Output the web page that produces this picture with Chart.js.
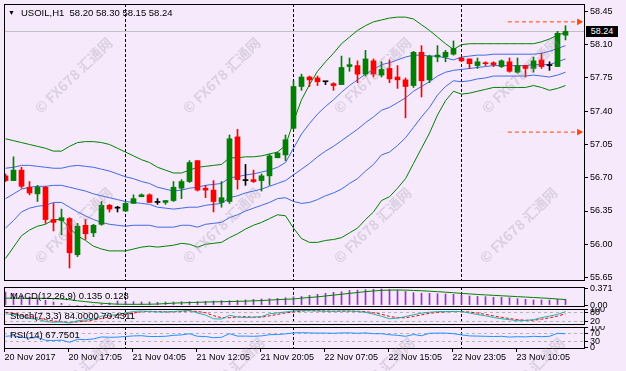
<!DOCTYPE html>
<html>
<head>
<meta charset="utf-8">
<script src="https://cdn.jsdelivr.net/npm/chart.js@4.4.0/dist/chart.umd.min.js"></script>
<style>
  body { margin: 0; background: #f5e9fb; }
  #wrap { position: relative; width: 626px; height: 371px; overflow: hidden; background: #f5e9fb;
          font-family: 'Liberation Sans', Arial, sans-serif; }
  canvas { position: absolute; left: 0; }
  .lbl { position: absolute; font-size: 9.5px; color: #000; white-space: pre; line-height: 11px; }
  .wm { position: absolute; font: bold 14px 'Noto Sans CJK SC', 'Liberation Sans', sans-serif; color: rgba(150, 145, 160, 0.28);
        white-space: nowrap; transform: translate(-50%, -50%) rotate(-44deg); pointer-events: none; }
  #bid { position: absolute; left: 586px; width: 32px; height: 11px; background: #000; color: #fff;
         font-size: 9px; line-height: 11px; text-align: center; }
</style>
</head>
<body>
<div id="wrap">
  <canvas id="main" width="626" height="284" style="top:0"></canvas>
  <canvas id="macd" width="626" height="23" style="top:285px"></canvas>
  <canvas id="stoch" width="626" height="18" style="top:308px"></canvas>
  <canvas id="rsi" width="626" height="45" style="top:326px"></canvas>
  <div class="lbl" style="left:8px;top:7px;font-size:7px">▼</div>
  <div class="lbl" id="title" style="left:21px;top:7px"></div>
  <div class="lbl" id="macdLbl" style="left:10px;top:290px"></div>
  <div class="lbl" id="stochLbl" style="left:10px;top:310px"></div>
  <div class="lbl" id="rsiLbl" style="left:10px;top:329px"></div>
  <div id="bid"></div>
</div>
<script>
// hourly bars, USOIL H1
const opens = [56.72,56.67,56.78,56.60,56.53,56.60,56.26,56.25,56.27,55.89,56.20,56.12,56.21,56.41,56.38,56.35,56.43,56.50,56.52,56.44,
  56.44,56.46,56.59,56.66,56.88,56.59,56.57,56.44,56.45,57.13,56.67,56.68,56.67,56.72,56.91,56.94,57.22,57.66,57.76,57.75,
  57.71,57.69,57.68,57.87,57.88,57.79,57.93,57.78,57.85,57.76,57.73,57.67,58.02,57.73,57.97,57.97,58.00,57.96,57.95,57.88,
  57.91,57.91,57.87,57.92,57.81,57.88,57.85,57.94,57.88,57.87,58.20];
const highs = [56.74,56.92,56.81,56.66,56.62,56.61,56.43,56.37,56.28,56.22,56.26,56.21,56.45,56.42,56.40,56.44,56.52,56.53,56.53,56.48,
  56.46,56.66,56.68,56.88,56.88,56.62,56.67,56.66,57.15,57.21,56.84,56.78,56.74,56.95,56.97,57.15,57.72,57.79,57.77,57.77,
  57.71,57.70,57.98,57.96,57.93,58.04,57.95,57.92,57.94,57.88,57.75,58.03,58.09,57.99,58.09,58.04,58.14,57.97,57.95,57.96,
  57.92,57.92,57.94,57.96,57.96,57.88,57.97,58.01,57.92,58.24,58.30];
const lows = [56.66,56.67,56.59,56.52,56.45,56.22,56.14,56.10,55.75,55.87,56.05,56.08,56.20,56.34,56.34,56.35,56.43,56.50,56.44,56.42,
  56.42,56.45,56.48,56.65,56.56,56.49,56.34,56.39,56.43,56.58,56.62,56.65,56.56,56.62,56.91,56.88,57.21,57.62,57.66,57.67,
  57.68,57.62,57.68,57.82,57.70,57.77,57.76,57.76,57.70,57.64,57.33,57.65,57.55,57.70,57.92,57.92,57.99,57.92,57.85,57.85,
  57.88,57.87,57.86,57.81,57.80,57.76,57.81,57.85,57.83,57.87,58.15];
const closes = [56.67,56.78,56.61,56.54,56.60,56.26,56.23,56.28,55.91,56.19,56.11,56.20,56.41,56.37,56.38,56.43,56.48,56.52,56.44,56.44,
  56.46,56.60,56.66,56.86,56.57,56.57,56.45,56.49,57.11,56.68,56.67,56.66,56.72,56.93,56.96,57.10,57.66,57.76,57.73,57.71,
  57.71,57.67,57.86,57.89,57.79,57.95,57.79,57.84,57.74,57.73,57.66,58.02,57.72,57.98,57.99,58.02,58.06,57.93,57.90,57.92,
  57.90,57.89,57.93,57.82,57.88,57.85,57.93,57.87,57.88,58.22,58.24];

// bollinger bands: outer (green) and inner (blue)
const bbUpper2 = [57.11,57.09,57.07,57.05,57.03,57.01,56.98,56.98,57.03,57.07,57.08,57.08,57.07,57.05,57.01,56.97,56.93,56.89,56.86,56.81,
  56.78,56.75,56.75,56.78,56.81,56.82,56.83,56.84,56.91,56.91,56.92,56.92,56.93,56.95,56.97,57.04,57.29,57.52,57.68,57.82,
  57.92,58.01,58.11,58.18,58.25,58.30,58.34,58.36,58.38,58.39,58.39,58.37,58.31,58.25,58.18,58.11,58.05,58.10,58.11,58.11,
  58.11,58.11,58.11,58.11,58.11,58.11,58.11,58.13,58.16,58.20,58.23];
const bbUpper1 = [56.80,56.81,56.83,56.83,56.82,56.81,56.80,56.80,56.82,56.83,56.82,56.81,56.79,56.77,56.74,56.71,56.69,56.66,56.64,56.60,
  56.58,56.56,56.57,56.59,56.60,56.62,56.63,56.64,56.70,56.71,56.73,56.74,56.76,56.78,56.81,56.86,57.01,57.16,57.27,57.37,
  57.45,57.52,57.60,57.67,57.73,57.79,57.84,57.89,57.91,57.94,57.97,57.99,57.99,57.98,57.98,57.96,57.94,57.97,57.98,57.99,
  57.99,58.00,58.00,58.00,58.00,58.00,58.00,58.01,58.03,58.06,58.09];
const bbMid = [56.48,56.53,56.58,56.60,56.61,56.61,56.62,56.62,56.60,56.58,56.56,56.53,56.51,56.49,56.47,56.45,56.44,56.43,56.42,56.39,
  56.38,56.37,56.38,56.39,56.39,56.41,56.42,56.43,56.49,56.51,56.54,56.56,56.58,56.61,56.64,56.67,56.73,56.79,56.85,56.92,
  56.98,57.03,57.09,57.15,57.21,57.28,57.34,57.41,57.44,57.49,57.54,57.61,57.66,57.71,57.77,57.81,57.83,57.84,57.85,57.86,
  57.87,57.88,57.88,57.88,57.88,57.88,57.89,57.89,57.89,57.92,57.95];
const bbLower1 = [56.17,56.25,56.34,56.38,56.40,56.41,56.44,56.44,56.39,56.34,56.30,56.26,56.23,56.21,56.20,56.19,56.20,56.20,56.20,56.18,
  56.18,56.18,56.20,56.20,56.18,56.21,56.22,56.23,56.28,56.31,56.35,56.38,56.41,56.44,56.48,56.49,56.45,56.43,56.44,56.47,
  56.51,56.54,56.58,56.64,56.69,56.77,56.84,56.94,56.97,57.04,57.12,57.23,57.34,57.44,57.57,57.66,57.72,57.71,57.72,57.74,
  57.75,57.77,57.77,57.77,57.77,57.77,57.78,57.77,57.76,57.78,57.81];
const bbLower2 = [55.85,55.97,56.09,56.15,56.19,56.21,56.26,56.26,56.17,56.09,56.04,55.98,55.95,55.93,55.93,55.93,55.95,55.97,55.98,55.97,
  55.98,55.99,56.01,56.00,55.97,56.00,56.01,56.02,56.07,56.11,56.16,56.20,56.23,56.27,56.31,56.30,56.17,56.06,56.02,56.02,
  56.04,56.05,56.07,56.12,56.17,56.26,56.34,56.46,56.50,56.59,56.69,56.85,57.01,57.17,57.36,57.51,57.61,57.58,57.59,57.61,
  57.63,57.65,57.65,57.65,57.65,57.65,57.67,57.65,57.62,57.64,57.67];

const macdHist = [0.30,0.27,0.23,0.19,0.16,0.11,0.07,0.04,0.00,-0.013,-0.01,0.00,0.03,0.05,0.095,0.087,0.079,0.071,0.071,0.064,
  0.071,0.071,0.079,0.079,0.079,0.087,0.095,0.102,0.102,0.110,0.118,0.133,0.141,0.148,0.156,0.171,0.19,0.20,0.225,0.248,
  0.271,0.294,0.31,0.337,0.345,0.355,0.365,0.371,0.36,0.345,0.315,0.286,0.271,0.271,0.263,0.256,0.248,0.225,0.21,0.20,
  0.194,0.179,0.179,0.171,0.148,0.133,0.118,0.118,0.118,0.133,0.135];
const macdSignal = [0.16,0.16,0.158,0.156,0.156,0.156,0.15,0.14,0.125,0.10,0.08,0.06,0.045,0.03,0.022,0.018,0.018,0.018,0.02,0.025,
  0.035,0.045,0.052,0.058,0.064,0.07,0.074,0.078,0.082,0.087,0.092,0.098,0.105,0.115,0.125,0.135,0.14,0.16,0.175,0.19,
  0.21,0.23,0.25,0.27,0.29,0.31,0.325,0.34,0.345,0.348,0.345,0.338,0.33,0.32,0.31,0.298,0.285,0.27,0.258,0.245,
  0.235,0.225,0.215,0.205,0.195,0.185,0.175,0.165,0.155,0.14,0.128];

const stochMain = [70,65,55,40,35,20,15,18,10,25,30,35,55,60,65,75,85,88,85,82,
  82,85,88,92,75,62,38,36,60,50,45,48,52,70,76,82,88,92,90,88,
  86,86,88,88,85,79,68,54,38,42,52,64,74,80,84,85,85,84,75,65,
  57,46,38,32,25,27,32,45,55,66,84.0000];
const stochSignal = [80,74,63,53,43,32,23,18,14,18,22,30,40,50,60,67,75,83,86,85,
  83,83,85,88,85,77,58,45,45,49,52,48,48,57,66,76,82,87,90,90,
  88,87,87,87,87,84,77,67,53,45,44,53,63,73,79,83,85,85,81,75,
  66,56,47,39,32,28,28,35,44,55,70.4311];
const rsiValues = [55,58,50,46,49,35,34,36,25,40,38,42,52,50,51,54,57,58,54,54,
  55,60,62,68,55,54,48,50,68,56,56,55,57,63,64,67,72,73,72,71,
  71,70,72,72,70,72,68,68,63,60,55,64,58,70,71,71,68,62,57,56,
  55,54,55,51,53,52,55,53,55,70,67.7501];

const timeLabels = ['20 Nov 2017', '20 Nov 17:05', '21 Nov 04:05', '21 Nov 12:05', '21 Nov 20:05',
  '22 Nov 07:05', '22 Nov 15:05', '22 Nov 23:05', '23 Nov 10:05'];
const dayStarts = [15, 36, 57];
const priceTicks = [58.45, 58.10, 57.75, 57.40, 57.05, 56.70, 56.35, 56.00, 55.65];
const targetLevels = [58.34, 57.18];

Chart.defaults.font.family = "'Liberation Sans', Arial, sans-serif";
Chart.defaults.font.size = 9;
Chart.defaults.color = '#000';
Chart.defaults.animation = false;
Chart.defaults.plugins.legend.display = false;
Chart.defaults.plugins.tooltip.enabled = false;

const last = closes.length - 1;
const GREEN = '#008000', RED = '#ff0000', BLUE = '#4169e1';
const candleColor = closes.map((c, i) => c > opens[i] ? GREEN : c < opens[i] ? RED : '#000000');
const pts = arr => arr.map((v, i) => ({ x: i, y: v }));

const frame = {
  id: 'frame',
  afterDraw(chart) {
    const { ctx, chartArea: a } = chart;
    ctx.save();
    ctx.strokeStyle = '#000';
    ctx.lineWidth = 1;
    ctx.strokeRect(a.left + 0.5, a.top + 0.5, a.right - a.left, a.bottom - a.top);
    ctx.restore();
  }
};

const bidLine = {
  id: 'bidLine',
  beforeDatasetsDraw(chart) {
    const { ctx, chartArea: a } = chart;
    const y = Math.round(chart.scales.y.getPixelForValue(closes[last])) + 0.5;
    ctx.save();
    ctx.strokeStyle = '#c0c0c0';
    ctx.beginPath();
    ctx.moveTo(a.left, y);
    ctx.lineTo(a.right, y);
    ctx.stroke();
    ctx.restore();
  }
};

const noPad = s => { s.paddingTop = 0; s.paddingBottom = 0; s.paddingLeft = 0; s.paddingRight = 0; };

// shared x scale: one bar = 8px, bar 0 centred at x=5.5
function xScale(extra) {
  return Object.assign({
    type: 'linear', min: -0.1875, max: 72.3125, offset: false,
    afterBuildTicks: s => { s.ticks = dayStarts.map(v => ({ value: v })); },
    afterFit: s => { s.height = 0; noPad(s); },
    ticks: { display: false },
    grid: { color: '#000', drawTicks: false, offset: false },
    border: { display: false, dash: [3, 2] }
  }, extra);
}

function yScale(min, max, tickVals, fmt, levels) {
  return {
    position: 'right', min, max,
    afterFit: s => { s.width = 42; noPad(s); },
    afterBuildTicks: s => { s.ticks = tickVals.map(v => ({ value: v })); },
    border: { display: false, dash: [3, 3] },
    grid: {
      drawOnChartArea: !!levels, drawTicks: true, tickLength: 4, tickColor: '#000',
      color: c => levels && levels.includes(c.tick.value) ? '#b4b4b4' : 'rgba(0,0,0,0)'
    },
    ticks: { padding: 2, autoSkip: false, callback: fmt }
  };
}

const mainChart = new Chart(document.getElementById('main'), {
  type: 'bar',
  data: {
    datasets: [
      { type: 'bar', order: 0, data: closes.map((c, i) => ({ x: i, y: [opens[i], c] })),
        backgroundColor: candleColor, barThickness: 5, minBarLength: 1, grouped: false },
      { type: 'bar', order: 1, data: closes.map((c, i) => ({ x: i, y: [lows[i], highs[i]] })),
        backgroundColor: candleColor, barThickness: 1, grouped: false },
      ...[bbUpper2, bbLower2].map(arr => ({ type: 'line', order: 3, data: pts(arr),
        borderColor: GREEN, borderWidth: 1, pointRadius: 0 })),
      ...[bbUpper1, bbMid, bbLower1].map(arr => ({ type: 'line', order: 2, data: pts(arr),
        borderColor: BLUE, borderWidth: 1, pointRadius: 0 })),
      ...targetLevels.map(v => ({ type: 'line', order: 0, data: [{ x: 62.8, y: v }, { x: 71.7, y: v }],
        borderColor: '#ff4500', borderWidth: 1, borderDash: [4, 3], pointRadius: [0, 4],
        pointStyle: 'triangle', rotation: 90, pointBackgroundColor: '#ff4500', pointBorderWidth: 0 }))
    ]
  },
  options: {
    responsive: false,
    layout: { padding: { left: 4, right: 0, top: 4, bottom: 1 } },
    scales: {
      x: xScale(),
      y: yScale(55.624, 58.528, priceTicks, v => v.toFixed(2))
    }
  },
  plugins: [frame, bidLine]
});

new Chart(document.getElementById('macd'), {
  type: 'bar',
  data: {
    datasets: [
      { type: 'line', order: 0, data: pts(macdSignal), borderColor: GREEN, borderWidth: 1, pointRadius: 0 },
      { type: 'bar', order: 1, data: pts(macdHist), backgroundColor: '#9932cc', barThickness: 1, grouped: false }
    ]
  },
  options: {
    responsive: false,
    layout: { padding: { left: 4, right: 0, top: 2, bottom: 2 } },
    scales: {
      x: xScale(),
      y: yScale(-0.021, 0.417, [0.371, 0], v => v === 0 ? '0.00' : v.toFixed(3))
    }
  },
  plugins: [frame]
});

new Chart(document.getElementById('stoch'), {
  type: 'line',
  data: {
    datasets: [
      { data: pts(stochMain), borderColor: '#20b2aa', borderWidth: 1, pointRadius: 0 },
      { data: pts(stochSignal), borderColor: RED, borderWidth: 1, borderDash: [3, 2], pointRadius: 0 }
    ]
  },
  options: {
    responsive: false,
    layout: { padding: { left: 4, right: 0, top: 1, bottom: 2 } },
    scales: {
      x: xScale(),
      y: yScale(4, 101, [100, 80, 20], v => String(v), [80, 20])
    }
  },
  plugins: [frame]
});

new Chart(document.getElementById('rsi'), {
  type: 'line',
  data: {
    datasets: [
      { data: pts(rsiValues), borderColor: '#1e90ff', borderWidth: 1, pointRadius: 0 }
    ]
  },
  options: {
    responsive: false,
    layout: { padding: { left: 4, right: 0, top: 1, bottom: 3 } },
    scales: {
      x: {
        type: 'linear', min: -0.1875, max: 72.3125, offset: false,
        afterFit: s => { s.height = 20; noPad(s); },
        afterBuildTicks: s => { s.ticks = timeLabels.map((t, k) => ({ value: 8 * k - 0.125 })); },
        ticks: { align: 'start', padding: 0, autoSkip: false, maxRotation: 0,
                 callback: (v, k) => timeLabels[k] },
        grid: { drawOnChartArea: false, drawTicks: true, tickLength: 4, tickColor: '#000', offset: false },
        border: { display: false }
      },
      xs: xScale(),
      y: yScale(-3.5, 101.5, [100, 70, 30, 0], v => String(v), [70, 30])
    }
  },
  plugins: [frame]
});

// texts
document.getElementById('title').textContent =
  `USOIL,H1  ${opens[last].toFixed(2)} ${highs[last].toFixed(2)} ${lows[last].toFixed(2)} ${closes[last].toFixed(2)}`;
document.getElementById('macdLbl').textContent =
  `MACD(12,26,9) ${macdHist[last].toFixed(3)} ${macdSignal[last].toFixed(3)}`;
document.getElementById('stochLbl').textContent =
  `Stoch(7,3,3) ${stochMain[last].toFixed(4)} ${stochSignal[last].toFixed(4)}`;
document.getElementById('rsiLbl').textContent = `RSI(14) ${rsiValues[last].toFixed(4)}`;
const bid = document.getElementById('bid');
bid.textContent = closes[last].toFixed(2);
bid.style.top = (Math.round(mainChart.scales.y.getPixelForValue(closes[last])) - 5) + 'px';

// watermark
const wrap = document.getElementById('wrap');
[[73, 75], [221, 75], [372, 75], [520, 75], [73, 225], [221, 225], [372, 225], [518, 225],
 [75, 375], [225, 375], [375, 375], [525, 375]].forEach(([x, y]) => {
  const s = document.createElement('span');
  s.className = 'wm';
  s.style.left = x + 'px';
  s.style.top = y + 'px';
  s.textContent = '© FX678 汇通网';
  wrap.appendChild(s);
});
</script>
</body>
</html>
